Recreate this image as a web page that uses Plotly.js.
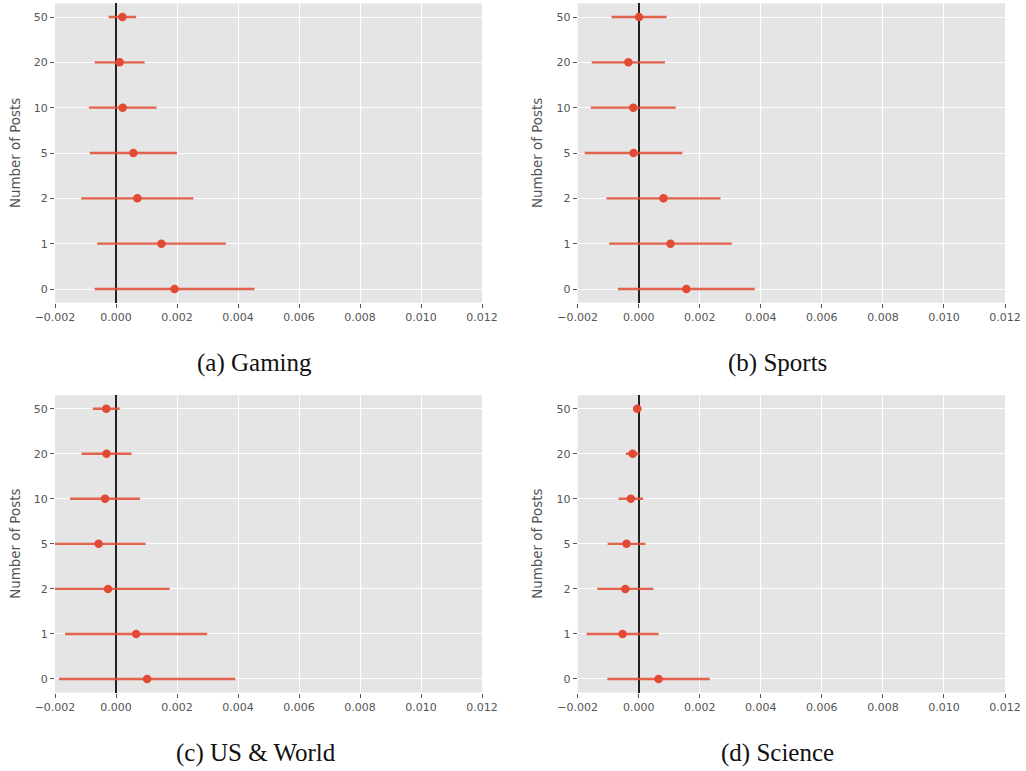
<!DOCTYPE html>
<html>
<head>
<meta charset="utf-8">
<script src="https://cdn.plot.ly/plotly-3.0.1.min.js"></script>
<style>
  html, body { margin: 0; padding: 0; background: #ffffff; }
  #chart { width: 1026px; height: 771px; }
</style>
</head>
<body>
<div id="chart"></div>
<script>
// Number-of-posts buckets (bottom to top on each panel)
const posts = ['0', '1', '2', '5', '10', '20', '50'];

// Point estimates and symmetric error half-widths per community
const gamingMean  = [0.00192, 0.00149, 0.00070, 0.00057, 0.00022, 0.00012, 0.00021];
const gamingErr   = [0.00262, 0.00211, 0.00184, 0.00143, 0.00111, 0.00082, 0.00045];

const sportsMean  = [0.00156, 0.00104, 0.00081, -0.00017, -0.00018, -0.00034, 0.00001];
const sportsErr   = [0.00224, 0.00201, 0.00187, 0.00160, 0.00139, 0.00120, 0.00090];

const worldMean   = [0.00102, 0.00066, -0.00026, -0.00057, -0.00036, -0.00031, -0.00032];
const worldErr    = [0.00289, 0.00233, 0.00202, 0.00154, 0.00115, 0.00082, 0.00044];

const scienceMean = [0.00065, -0.00053, -0.00044, -0.00040, -0.00026, -0.00020, -0.00005];
const scienceErr  = [0.00168, 0.00118, 0.00092, 0.00062, 0.00040, 0.00022, 0.00013];

const captions = ['(a) Gaming', '(b) Sports', '(c) US &amp; World', '(d) Science'];
const xTicks = [-0.002, 0.000, 0.002, 0.004, 0.006, 0.008, 0.010, 0.012];

const red = '#E24A33';
const W = 1026, H = 771;

const panels = [
  { mean: gamingMean,  err: gamingErr,  x: [55, 482],    y: [3.4, 302.6] },
  { mean: sportsMean,  err: sportsErr,  x: [577.7, 1005], y: [3.4, 302.6] },
  { mean: worldMean,   err: worldErr,   x: [55, 482],    y: [395.2, 692.5] },
  { mean: scienceMean, err: scienceErr, x: [577.7, 1005], y: [395.2, 692.5] }
];
const captionPos = [[254, 363], [777, 363], [256, 753], [777, 753]];
const ytitleX = [16, 538];

const data = [];
const layout = {
  width: W, height: H,
  margin: { l: 0, r: 0, t: 0, b: 0 },
  paper_bgcolor: '#ffffff',
  plot_bgcolor: '#E5E5E5',
  showlegend: false,
  font: { family: 'DejaVu Sans, sans-serif', size: 11, color: '#555555' },
  annotations: []
};

panels.forEach((p, i) => {
  const n = i === 0 ? '' : String(i + 1);
  const xa = 'x' + n, ya = 'y' + n;

  data.push({
    type: 'scatter', mode: 'markers',
    x: p.mean, y: posts,
    xaxis: xa, yaxis: ya,
    marker: { color: red, size: 8.5, line: { width: 0 } },
    error_x: { type: 'data', array: p.err, symmetric: true, color: 'rgba(226,74,51,0.85)', thickness: 2.4, width: 0 },
    hoverinfo: 'x+y'
  });

  // the zero line doubles as the dark reference line at x = 0
  layout['xaxis' + n] = {
    domain: [p.x[0] / W, p.x[1] / W],
    anchor: ya,
    range: [-0.0020001, 0.0120001],
    tickmode: 'array', tickvals: xTicks,
    tickformat: '.3f',
    ticks: 'outside', ticklen: 4, tickwidth: 1, tickcolor: '#555555',
    showgrid: true, gridcolor: '#ffffff', gridwidth: 1,
    zeroline: true, zerolinecolor: '#222222', zerolinewidth: 2.5,
    showline: false,
    tickfont: { size: 11, color: '#555555' }
  };
  layout['yaxis' + n] = {
    domain: [1 - p.y[1] / H, 1 - p.y[0] / H],
    anchor: xa,
    type: 'category',
    categoryorder: 'array', categoryarray: posts,
    range: [-0.3, 6.3],
    ticks: 'outside', ticklen: 4, tickwidth: 1, tickcolor: '#555555',
    showgrid: true, gridcolor: '#ffffff', gridwidth: 1,
    zeroline: false, showline: false,
    tickfont: { size: 11, color: '#555555' }
  };

  // axis title
  layout.annotations.push({
    text: 'Number of Posts',
    xref: 'paper', yref: 'paper',
    x: ytitleX[i % 2] / W, y: 1 - ((p.y[0] + p.y[1]) / 2) / H,
    xanchor: 'center', yanchor: 'middle',
    textangle: -90, showarrow: false,
    font: { family: 'DejaVu Sans, sans-serif', size: 13.4, color: '#555555' }
  });

  // sub-figure caption
  layout.annotations.push({
    text: captions[i],
    xref: 'paper', yref: 'paper',
    x: captionPos[i][0] / W, y: 1 - captionPos[i][1] / H,
    xanchor: 'center', yanchor: 'middle',
    showarrow: false,
    font: { family: 'Liberation Serif, serif', size: 25, color: '#111111' }
  });
});

Plotly.newPlot('chart', data, layout, { displayModeBar: false, staticPlot: true });
</script>
</body>
</html>
